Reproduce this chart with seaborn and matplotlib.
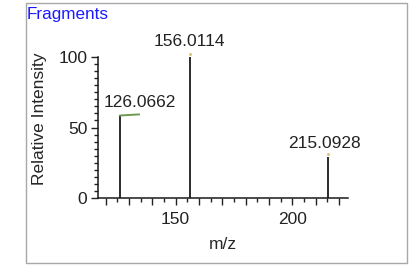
import matplotlib
matplotlib.use("Agg")
import matplotlib.pyplot as plt
import seaborn as sns
from matplotlib.patches import Rectangle
from matplotlib.ticker import MultipleLocator, FixedFormatter, FixedLocator

# peak data
mz = [126.0662, 156.0114, 215.0928]
intensity = [58, 100, 29]
peak_labels = ["126.0662", "156.0114", "215.0928"]

xticks_labeled = [150, 200]
yticks_labeled = [0, 50, 100]

sns.set_style("ticks")
plt.rcParams["font.family"] = ["Liberation Sans", "DejaVu Sans"]
plt.rcParams["text.color"] = "#222222"
plt.rcParams["xtick.color"] = "#222222"
plt.rcParams["ytick.color"] = "#222222"

fig = plt.figure(figsize=(4.14, 2.65), dpi=100)
ax = fig.add_axes([98.3 / 414, 1 - 198 / 265, 250 / 414, 141 / 265])

# outer frame of the panel
fig.patches.append(Rectangle((26 / 414, 2 / 265), 381 / 414, 260 / 265,
                             transform=fig.transFigure, fill=False,
                             edgecolor="#a8a8a8", linewidth=1.0))

fig.text(27 / 414, 1 - 19 / 265, "Fragments", color="#1a1aff",
         fontsize=12.3, va="baseline", ha="left")

# stick spectrum
ax.vlines(mz, 0, intensity, color="#1a1a1a", linewidth=1.3, clip_on=False)

# peak annotations
label_offsets = [(20, 6), (0, 8), (-3, 6)]
for x, y, s, (dx, dy) in zip(mz, intensity, peak_labels, label_offsets):
    ax.annotate(s, (x, y), xytext=(dx, dy), textcoords="offset pixels",
                ha="center", va="bottom", fontsize=12.5, color="#222222",
                annotation_clip=False)
    if s != peak_labels[0]:
        ax.plot([x], [y + 2], marker="o", markersize=1.2, color="#d9c77a",
                clip_on=False)
# green connector under the first label
ax.plot([mz[0], mz[0] + 8.3], [intensity[0] + 0.5, intensity[0] + 1.3],
        color="#6d9a4e", linewidth=1.4, clip_on=False)

ax.set_xlim(116.86, 224.0)
ax.set_ylim(0, 100)

major_x = list(range(120, 221, 10))
ax.xaxis.set_major_locator(FixedLocator(major_x))
ax.xaxis.set_major_formatter(FixedFormatter(
    [str(v) if v in xticks_labeled else "" for v in major_x]))
ax.xaxis.set_minor_locator(MultipleLocator(5))
ax.yaxis.set_major_locator(FixedLocator(yticks_labeled))
ax.yaxis.set_minor_locator(MultipleLocator(5))

ax.tick_params(axis="both", which="major", length=5, width=1.0,
               labelsize=12.5, direction="out")
ax.tick_params(axis="x", which="major", pad=5)
ax.tick_params(axis="y", which="major", pad=3)
ax.tick_params(axis="both", which="minor", length=2.8, width=1.0,
               direction="out")

for side in ["top", "right"]:
    ax.spines[side].set_visible(False)
for side in ["left", "bottom"]:
    ax.spines[side].set_color("#1a1a1a")
    ax.spines[side].set_linewidth(1.1)

ax.set_xlabel("m/z", fontsize=12.5, labelpad=7)
ax.set_ylabel("Relative Intensity", fontsize=12.5)
ax.yaxis.set_label_coords(-0.205, 0.56)

fig.savefig("out.png", dpi=100)
